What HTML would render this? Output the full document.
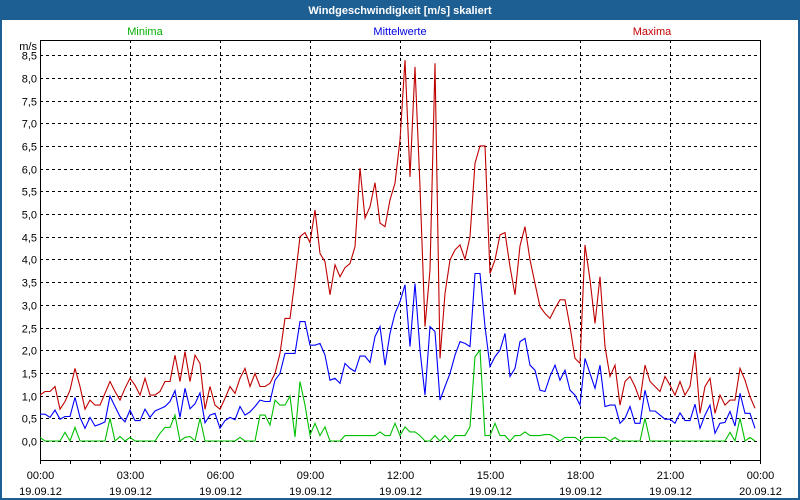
<!DOCTYPE html>
<html><head><meta charset="utf-8"><style>
html,body{margin:0;padding:0;background:#fff}
svg{display:block;font-family:"Liberation Sans",sans-serif}
</style></head><body>
<svg id="chart" width="800" height="500" xmlns="http://www.w3.org/2000/svg">
<rect x="1" y="1" width="798" height="498" fill="#fff" stroke="#1d5e93" stroke-width="2"/>
<rect x="0" y="0" width="800" height="20" fill="#1d5e93"/>
<text x="400" y="14" text-anchor="middle" fill="#fff" font-size="11" font-weight="bold">Windgeschwindigkeit [m/s] skaliert</text>
<text x="145" y="35" text-anchor="middle" fill="#00b000" font-size="11">Minima</text>
<text x="400" y="35" text-anchor="middle" fill="#0000e0" font-size="11">Mittelwerte</text>
<text x="652" y="35" text-anchor="middle" fill="#c00000" font-size="11">Maxima</text>
<text x="37" y="50" text-anchor="end" font-size="11">m/s</text>
<g id="grid"></g><g id="axes"></g><g id="series"></g>
</svg>
<script>
const yTicks=["0,0","0,5","1,0","1,5","2,0","2,5","3,0","3,5","4,0","4,5","5,0","5,5","6,0","6,5","7,0","7,5","8,0","8,5"];
const xTimes=["00:00","03:00","06:00","09:00","12:00","15:00","18:00","21:00","00:00"];
const xDates=["19.09.12","19.09.12","19.09.12","19.09.12","19.09.12","19.09.12","19.09.12","19.09.12","20.09.12"];
const maxima=[1.01,1.09,1.09,1.20,0.70,0.87,1.12,1.60,1.20,0.70,0.90,0.79,0.79,1.05,1.31,1.09,0.90,1.16,1.38,1.23,1.01,1.38,1.01,1.01,1.09,1.31,1.31,1.89,1.31,1.97,1.31,1.89,1.71,0.70,1.20,0.79,0.70,0.94,1.20,1.05,1.38,1.60,1.20,1.49,1.20,1.20,1.27,
1.49,1.93,2.70,2.70,3.55,4.50,4.59,4.37,5.09,4.13,3.95,3.22,3.88,3.62,3.82,3.91,4.28,6.01,4.91,5.16,5.69,4.80,4.72,5.31,5.68,6.63,8.39,5.82,8.24,5.60,2.52,3.77,8.32,1.82,3.25,3.99,4.21,4.32,4.00,4.50,6.12,6.50,6.50,3.69,3.99,4.54,4.59,3.84,3.22,4.30,4.72,3.99,3.47,2.96,
2.81,2.70,2.92,3.11,3.11,2.52,1.82,1.71,4.32,3.55,2.59,3.62,2.08,1.42,1.67,0.79,1.31,1.42,1.20,0.90,1.67,1.31,1.20,1.09,1.42,1.23,1.01,1.31,1.01,1.20,1.97,0.61,1.20,1.38,0.61,1.01,0.79,0.90,0.90,1.60,1.34,0.98,0.72];
const mittel=[0.59,0.59,0.52,0.68,0.48,0.54,0.54,0.96,0.52,0.28,0.52,0.33,0.37,0.42,0.99,0.76,0.54,0.42,0.68,0.45,0.45,0.70,0.52,0.66,0.71,0.76,0.87,1.11,0.52,1.16,0.71,0.82,1.06,0.40,0.57,0.61,0.28,0.45,0.52,0.47,0.76,0.57,0.64,0.76,0.90,0.87,0.87,
1.34,1.49,1.93,1.93,1.93,2.63,2.63,2.11,2.11,2.15,1.89,1.34,1.38,1.27,1.71,1.60,1.53,1.87,1.87,1.73,2.30,2.52,1.67,2.37,2.81,3.07,3.44,2.08,3.47,2.00,1.01,2.52,2.41,0.90,1.20,1.49,1.89,2.19,2.15,2.08,3.69,3.69,2.52,1.64,1.86,2.00,2.37,1.42,1.60,2.19,2.26,1.67,1.56,1.12,
1.09,1.42,1.67,1.34,1.56,1.12,1.01,0.79,1.82,1.49,1.16,1.67,0.76,0.79,0.79,0.39,0.50,0.76,0.39,0.39,1.12,0.66,0.66,0.57,0.48,0.48,0.39,0.62,0.45,0.45,0.81,0.28,0.57,0.79,0.17,0.39,0.41,0.65,0.33,1.05,0.61,0.61,0.28];
const minima=[0.08,0,0,0,0,0.19,0,0.30,0,0,0,0,0,0,0.50,0,0.10,0,0.08,0,0,0,0,0,0.17,0.30,0.30,0.57,0,0.08,0.10,0,0.50,0,0,0,0,0,0,0,0.08,0,0,0,0.57,0.57,0.35,
0.90,0.79,0.79,0.99,0.09,1.31,0.79,0.13,0.39,0.12,0.31,0,0,0,0.12,0.12,0.12,0.12,0.12,0.12,0.12,0.20,0.12,0.12,0.39,0.12,0.31,0.20,0.20,0.12,0,0,0.12,0,0.12,0,0.12,0.12,0.12,0.31,1.86,2.00,0.12,0.12,0.39,0.12,0.12,0,0.12,0.12,0.20,0.12,0.12,0.12,
0.14,0.14,0.08,0,0.08,0.08,0.08,0,0.08,0.08,0.08,0.08,0.08,0,0.08,0,0,0,0,0,0.50,0,0,0,0,0,0,0,0,0,0,0,0,0,0,0,0,0.19,0,0.50,0,0.08,0];
const NS='http://www.w3.org/2000/svg';
const L=40,R=760,T=40,B=460,Y0=441,PERUNIT=45.4;
function yS(v){return Y0-v*PERUNIT;}
function xS(i){return L+i*5;}           // 10-minute steps
function xH(h){return L+h*30;}          // hours
function mk(tag,attrs,parent){const e=document.createElementNS(NS,tag);for(const k in attrs)e.setAttribute(k,attrs[k]);parent.appendChild(e);return e;}
const grid=document.getElementById('grid'),axes=document.getElementById('axes'),ser=document.getElementById('series');
yTicks.forEach((t,i)=>{const y=Math.round(yS(i*0.5))+0.5;
 const g=mk('line',{x1:L,x2:R,y1:y,y2:y,stroke:'#000','stroke-dasharray':'3,3'},grid);
 
 
 const tx=mk('text',{x:37,y:y+4,'text-anchor':'end','font-size':'11'},axes);tx.textContent=t;
 
 
});
xTimes.forEach((t,i)=>{const x=xH(i*3)+0.5;
 if(i>0&&i<8){const g=mk('line',{x1:x,x2:x,y1:T,y2:B,stroke:'#000','stroke-dasharray':'3,3'},grid);
 
 }
 const a=mk('text',{x:x,y:479,'text-anchor':'middle','font-size':'11'},axes);a.textContent=t;
 
 
 const b=mk('text',{x:x,y:495,'text-anchor':'middle','font-size':'11'},axes);b.textContent=xDates[i];
 
 
});
for(let h=0;h<=24;h++){const x=xH(h)+0.5;const t=mk('line',{x1:x,x2:x,y1:B,y2:B+4,stroke:'#000'},axes);
 
 }
const box=mk('rect',{x:L+0.5,y:T+0.5,width:R-L,height:B-T,fill:'none',stroke:'#000'},axes);


function line(arr,col,name){const p=mk('polyline',{points:arr.map((v,i)=>xS(i)+','+yS(v).toFixed(1)).join(' '),fill:'none',stroke:col,'stroke-width':'1.1'},ser);
 
 }
line(minima,'#00c000','series-minima');
line(mittel,'#0000ff','series-mittelwerte');
line(maxima,'#c00000','series-maxima');
</script>
</body></html>
